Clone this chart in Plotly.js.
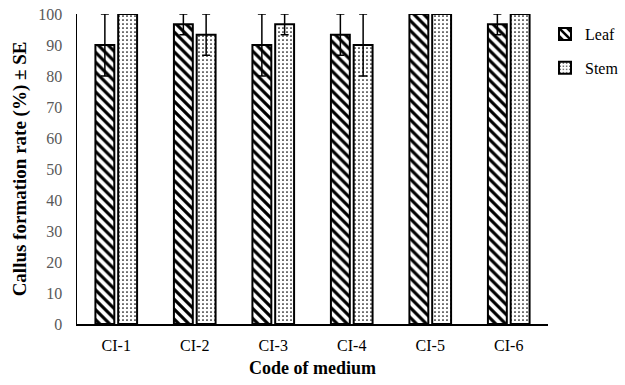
<!DOCTYPE html>
<html><head><meta charset="utf-8">
<script src="https://cdn.plot.ly/plotly-3.0.1.min.js"></script>
<style>body{margin:0;padding:0;background:#fff}#chart{width:625px;height:385px}</style>
</head><body><div id="chart"></div>
<script>
const categories = ["CI-1","CI-2","CI-3","CI-4","CI-5","CI-6"];
const leafValues = [90, 96.67, 90, 93.33, 100, 96.67];
const leafSE = [10, 3.33, 10, 6.67, 0, 3.33];
const stemValues = [100, 93.33, 96.67, 90, 100, 100];
const stemSE = [0, 6.67, 3.33, 10, 0, 0];
const yTicks = [0,10,20,30,40,50,60,70,80,90,100];

const serif = "Liberation Serif";
const traces = [
  {type:"bar", name:"Leaf", x:categories, y:leafValues, legendgroup:"a",
   error_y:{type:"data", array:leafSE, arrayminus:leafSE, symmetric:false, color:"#000", thickness:1.5, width:4},
   marker:{color:"#fff", line:{color:"#000", width:2},
     pattern:{shape:"\\", fgcolor:"#000", bgcolor:"#fff", size:7, solidity:0.45}}},
  {type:"bar", name:"Stem", x:categories, y:stemValues, legendgroup:"b",
   error_y:{type:"data", array:stemSE, arrayminus:stemSE, symmetric:false, color:"#000", thickness:1.5, width:4},
   marker:{color:"#fff", line:{color:"#000", width:2},
     pattern:{shape:".", fgcolor:"#000", bgcolor:"#fff", size:4, solidity:0.15}}}
];
const layout = {
  width:625, height:385,
  margin:{l:77, r:77, t:14, b:61, autoexpand:false},
  paper_bgcolor:"#fff", plot_bgcolor:"#fff",
  barmode:"group", bargap:0.42, bargroupgap:0.17,
  font:{family:serif, color:"#000"},
  xaxis:{showline:true, linecolor:"#000", linewidth:1.5, ticks:"", showgrid:false,
    ticklabelstandoff:6, automargin:false,
    tickfont:{size:16, color:"#000", family:serif},
    title:{text:"<b>Code of medium</b>", font:{size:18, family:serif, color:"#000"}, standoff:8}},
  yaxis:{range:[0,100], tickvals:yTicks, showline:true, linecolor:"#000", linewidth:1.5,
    ticks:"", showgrid:false, zeroline:false, ticklabelstandoff:10, automargin:false,
    tickfont:{size:16, color:"#595959", family:serif},
    title:{text:"<b>Callus formation rate (%) ± SE</b>", font:{size:19, family:serif, color:"#000"}, standoff:6}},
  showlegend:true,
  legend:{x:0.872, xref:"container", y:0.99, xanchor:"left", yanchor:"top", traceorder:"grouped", tracegroupgap:10,
    font:{size:16, family:serif, color:"#000"}, itemwidth:30}
};
Plotly.newPlot("chart", traces, layout, {displayModeBar:false, staticPlot:true});
</script></body></html>
